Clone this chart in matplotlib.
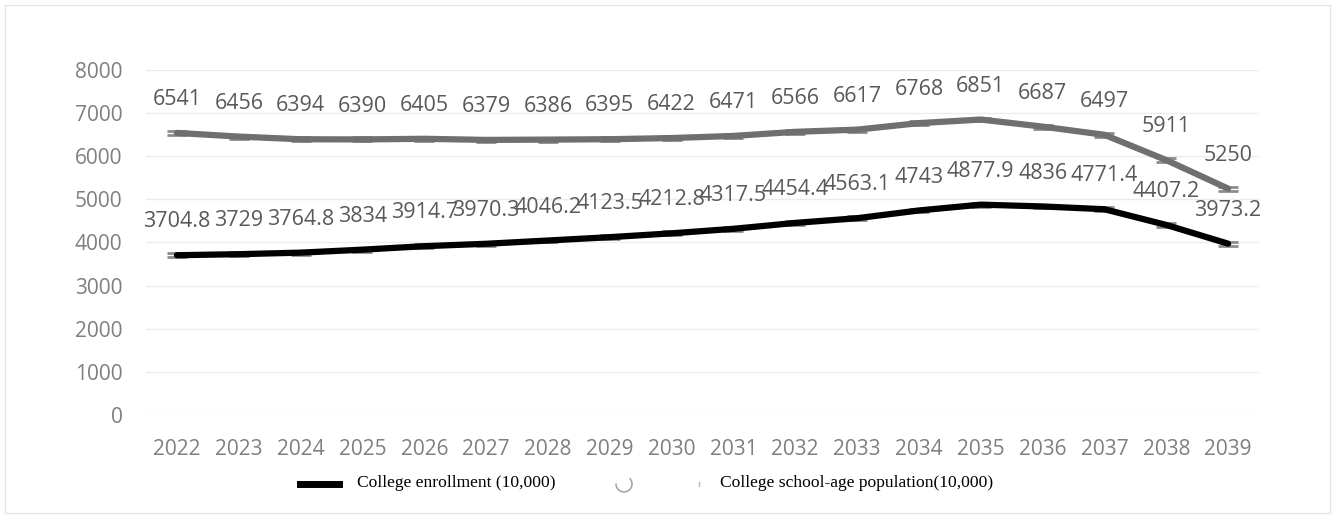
import numpy as np
import matplotlib.pyplot as plt
from matplotlib.lines import Line2D
from matplotlib.patches import Rectangle, Arc

# data
years = ['2022', '2023', '2024', '2025', '2026', '2027', '2028', '2029', '2030',
         '2031', '2032', '2033', '2034', '2035', '2036', '2037', '2038', '2039']
enrollment = [3704.8, 3729, 3764.8, 3834, 3914.7, 3970.3, 4046.2, 4123.5, 4212.8,
              4317.5, 4454.4, 4563.1, 4743, 4877.9, 4836, 4771.4, 4407.2, 3973.2]
population = [6541, 6456, 6394, 6390, 6405, 6379, 6386, 6395, 6422,
              6471, 6566, 6617, 6768, 6851, 6687, 6497, 5911, 5250]
err = 45

fig = plt.figure(figsize=(13.35, 5.18), dpi=100)
ax = fig.add_axes([146/1335, 1-415/518, (1259-146)/1335, 345/518])

x = np.arange(len(years))
txtcol = '#595959'
labfont = dict(family='Open Sans', size=15.5, color=txtcol)

ax.errorbar(x, population, yerr=err, color='#6f6f6f', linewidth=4.5, ecolor='#8c8c8c',
            elinewidth=1.5, capsize=7, capthick=2, solid_capstyle='round', zorder=3)
ax.errorbar(x, enrollment, yerr=err, color='black', linewidth=4.5, ecolor='#8c8c8c',
            elinewidth=1.5, capsize=7, capthick=2, solid_capstyle='round', zorder=3)

for i in range(len(x)):
    ax.annotate('%g' % population[i], (x[i], population[i]), xytext=(0, 24),
                textcoords='offset points', ha='center', va='center', **labfont)
    ax.annotate('%g' % enrollment[i], (x[i], enrollment[i]), xytext=(0, 24),
                textcoords='offset points', ha='center', va='center', **labfont)

ax.set_xlim(-0.5, len(years)-0.5)
ax.set_ylim(0, 8000)
ax.set_yticks(np.arange(0, 8001, 1000))
ax.set_xticks(x)
ax.set_xticklabels(years)
for lab in ax.get_xticklabels() + ax.get_yticklabels():
    lab.set_fontfamily('Open Sans')
    lab.set_fontsize(15)
    lab.set_color('#7f7f7f')
ax.tick_params(length=0)
ax.tick_params(axis='x', pad=17)
ax.tick_params(axis='y', pad=17)
ax.grid(axis='y', color='#ececec', linewidth=1)
ax.set_axisbelow(True)
for s in ax.spines.values():
    s.set_visible(False)

# legend
fig.add_artist(Line2D([300/1335, 339/1335], [1-484/518, 1-484/518], color='black',
                      linewidth=5, transform=fig.transFigure))
fig.text(357/1335, 1-483/518, 'College enrollment (10,000)', family='Liberation Serif',
         size=12.6, va='center', ha='left')
fig.add_artist(Arc((624/1335, 1-484/518), 16/1335, 16/518, theta1=170, theta2=70,
                   color='#a8a8a8', linewidth=1.2, transform=fig.transFigure))
fig.add_artist(Line2D([699/1335, 699/1335], [1-482/518, 1-486/518], color='#b8b8b8',
                      linewidth=1, transform=fig.transFigure))
fig.text(720/1335, 1-483/518, 'College school-age population(10,000)',
         family='Liberation Serif', size=12.6, va='center', ha='left')

# outer frame
fig.add_artist(Rectangle((5/1335, 5/518), 1325/1335, 508/518, fill=False, edgecolor='#e6e6e6',
                         linewidth=1, transform=fig.transFigure))

plt.savefig('out.png', dpi=100)
